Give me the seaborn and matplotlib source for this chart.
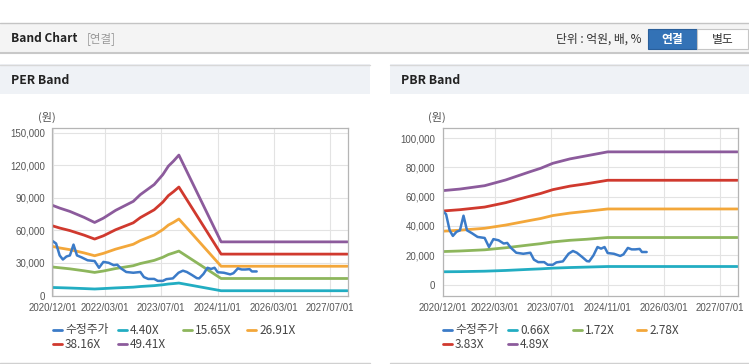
import pandas as pd
import matplotlib.pyplot as plt
import matplotlib.ticker as mticker
from matplotlib.patches import Rectangle
from matplotlib.lines import Line2D
import seaborn as sns

# 수정주가 (both panels)
price_dates = ['2020-12-01', '2021-01-01', '2021-02-01', '2021-03-01', '2021-04-01', '2021-05-01',
               '2021-06-01', '2021-07-01', '2021-08-10', '2021-10-01', '2021-12-01', '2022-01-08',
               '2022-02-15', '2022-04-01', '2022-05-15', '2022-06-15', '2022-07-15', '2022-09-01',
               '2022-11-01', '2023-01-01', '2023-02-01', '2023-03-10', '2023-05-01', '2023-06-01',
               '2023-07-15', '2023-08-15', '2023-10-10', '2023-11-28', '2024-01-05', '2024-02-08',
               '2024-03-25', '2024-05-05', '2024-05-25', '2024-07-01', '2024-08-05', '2024-09-05',
               '2024-10-05', '2024-11-01', '2024-12-25', '2025-02-18', '2025-03-18', '2025-04-25',
               '2025-05-28', '2025-06-28', '2025-08-05', '2025-08-25', '2025-10-05']
price_values = [50300, 48000, 37000, 33200, 36000, 37000, 47000, 37000, 35200, 32500, 31800, 25600,
                31000, 30200, 28000, 28400, 25200, 21700, 21000, 21700, 17000, 15300, 15300, 13500,
                13500, 15100, 15800, 21000, 22900, 21700, 18800, 16000, 15800, 19900, 25600, 24500,
                25600, 21500, 21000, 19500, 20600, 25000, 24000, 24000, 24300, 22200, 22200]

# PER band
per_dates = ['2020-12-01', '2021-02-01', '2021-05-01', '2021-09-01', '2021-12-01', '2022-02-15',
             '2022-06-01', '2022-11-01', '2023-01-01', '2023-05-01', '2023-07-15', '2023-09-01',
             '2023-10-15', '2023-12-01', '2024-12-01', '2027-12-01']
per_labels = ['4.40X', '15.65X', '26.91X', '38.16X', '49.41X']
per_440 = [7400, 7200, 6900, 6400, 6000, 6400, 7000, 7700, 8300, 9100, 9900, 10600, 11000, 11500, 4400, 4400]
per_1565 = [26300, 25600, 24600, 22800, 21300, 22600, 24900, 27500, 29500, 32400, 35300, 37800, 39300, 41000, 15700, 15700]
per_2691 = [45300, 43900, 42300, 39300, 36700, 38900, 42800, 47300, 50700, 55800, 60800, 65000, 67500, 70600, 27000, 27000]
per_3816 = [64300, 62300, 59900, 55700, 52100, 55100, 60700, 67100, 71900, 79100, 86200, 92200, 95800, 100100, 38200, 38200]
per_4941 = [83200, 80700, 77600, 72100, 67400, 71400, 78600, 86900, 93100, 102400, 111600, 119400, 124000, 129600, 49500, 49500]

# PBR band
pbr_dates = ['2020-12-01', '2021-05-01', '2021-12-01', '2022-06-01', '2023-01-01', '2023-04-01',
             '2023-07-15', '2023-12-10', '2024-05-01', '2024-11-01', '2027-12-01']
pbr_labels = ['0.66X', '1.72X', '2.78X', '3.83X', '4.89X']
pbr_066 = [8700, 8800, 9100, 9600, 10400, 10700, 11200, 11600, 11900, 12300, 12300]
pbr_172 = [22500, 22900, 23700, 25100, 27100, 27900, 29100, 30200, 30900, 32100, 32100]
pbr_278 = [36400, 37100, 38400, 40600, 43800, 45100, 47100, 48800, 50000, 51600, 51600]
pbr_383 = [50200, 51100, 52900, 55900, 60400, 62200, 64800, 67200, 68800, 71200, 71200]
pbr_489 = [64100, 65200, 67500, 71400, 77100, 79400, 82800, 85800, 87900, 90600, 90600]

tick_dates = ['2020-12-01', '2022-03-01', '2023-07-01', '2024-11-01', '2026-03-01', '2027-07-01']
tick_labels = ['2020/12/01', '2022/03/01', '2023/07/01', '2024/11/01', '2026/03/01', '2027/07/01']

colors = ['#3b7bc8', '#22adc2', '#8db65c', '#f3a73a', '#d0392e', '#8c5b9c']

sns.set_style('white')
plt.rcParams['font.family'] = ['Noto Sans CJK KR', 'DejaVu Sans']

W, H = 749, 364
fig = plt.figure(figsize=(W / 100, H / 100), dpi=100)


def box(x0, y0, x1, y1):
    return [x0 / W, 1 - y1 / H, (x1 - x0) / W, (y1 - y0) / H]


def fill(x0, y0, x1, y1, fc, ec='none', lw=0):
    fig.patches.append(Rectangle((x0 / W, 1 - y1 / H), (x1 - x0) / W, (y1 - y0) / H,
                                 transform=fig.transFigure, fc=fc, ec=ec, lw=lw, zorder=0))


def hline(x0, x1, y, color, lw=1):
    fig.lines.append(Line2D([x0 / W, x1 / W], [1 - y / H, 1 - y / H],
                            transform=fig.transFigure, color=color, lw=lw))


# page header
hline(0, W, 22.5, '#c4c4c4')
fill(0, 23, W, 52, '#f4f4f4')
hline(0, W, 52.5, '#c8c8c8', 1.5)
fig.text(11 / W, 1 - 39 / H, 'Band Chart', fontsize=8.6, fontweight='bold', color='#222', va='center')
fig.text(87 / W, 1 - 39 / H, '[연결]', fontsize=8.3, color='#999', va='center')
fig.text(641 / W, 1 - 39 / H, '단위 : 억원, 배, %', fontsize=8.5, color='#333', va='center', ha='right')
fill(648, 29, 697, 49, '#3372b6', '#2a5f9a', 0.8)
fill(697, 29, 748, 49, '#ffffff', '#c6c6c6', 0.8)
fig.text(672.5 / W, 1 - 39.5 / H, '연결', fontsize=8.5, fontweight='bold', color='white', va='center', ha='center')
fig.text(722.5 / W, 1 - 39.5 / H, '별도', fontsize=8.5, color='#333', va='center', ha='center')


def draw_panel(px, title, band_dates, bands, labels, ylim, yticks):
    # panel frame
    right = px + 370 if px == 0 else W
    fill(px, 64, right, 94, '#eff2f6')
    hline(px, right, 64.5, '#d8d8d8')
    hline(px, right, 362.5, '#d0d0d0')
    fig.text((px + 11) / W, 1 - 80 / H, title, fontsize=8.8, fontweight='bold', color='#222', va='center')

    ax = fig.add_axes(box(px + 52.5, 128, px + 347.5, 295.5))
    rows = []
    for lab, vals in zip(labels, bands):
        rows.append(pd.DataFrame({'date': pd.to_datetime(band_dates), 'value': vals, 'series': lab}))
    df = pd.concat(rows, ignore_index=True)
    sns.lineplot(data=df, x='date', y='value', hue='series', hue_order=labels,
                 palette=colors[1:], lw=2, legend=False, ax=ax)
    sns.lineplot(x=pd.to_datetime(price_dates), y=price_values, color=colors[0], lw=1.8, ax=ax)

    ax.set_xlim(pd.Timestamp('2020-12-01'), pd.Timestamp('2027-12-01'))
    ax.set_ylim(*ylim)
    ax.set_xticks(pd.to_datetime(tick_dates))
    ax.set_xticklabels(tick_labels)
    ax.set_yticks(yticks)
    ax.yaxis.set_major_formatter(mticker.FuncFormatter(lambda v, p: f'{int(v):,}'))
    ax.set_xlabel('')
    ax.set_ylabel('')
    ax.grid(True, color='#e3e3e3', lw=0.8)
    ax.set_axisbelow(True)
    for s in ax.spines.values():
        s.set_color('#b5b5b5')
        s.set_linewidth(0.9)
    ax.tick_params(axis='both', length=3, width=0.8, color='#999', labelsize=7,
                   labelcolor='#555', pad=2.5)
    for t in ax.get_xticklabels() + ax.get_yticklabels():
        t.set_family(['Liberation Sans'])
    fig.text((px + 47) / W, 1 - 117 / H, '(원)', fontsize=8, color='#555', va='center', ha='center')

    # legend
    names = ['수정주가'] + labels
    spots = [(53, 330), (118, 330), (183, 330), (247, 330), (53, 344), (118, 344)]
    for name, col, (lx, ly) in zip(names, colors, spots):
        fig.lines.append(Line2D([(px + lx) / W, (px + lx + 9) / W], [1 - ly / H, 1 - ly / H],
                                transform=fig.transFigure, color=col, lw=2))
        fig.text((px + lx + 12) / W, 1 - ly / H, name, fontsize=8.5, color='#444', va='center')


draw_panel(0, 'PER Band', per_dates, [per_440, per_1565, per_2691, per_3816, per_4941],
           per_labels, (0, 154600), range(0, 150001, 30000))
draw_panel(390, 'PBR Band', pbr_dates, [pbr_066, pbr_172, pbr_278, pbr_383, pbr_489],
           pbr_labels, (-7500, 106900), range(0, 100001, 20000))

plt.savefig('out.png', dpi=100)
